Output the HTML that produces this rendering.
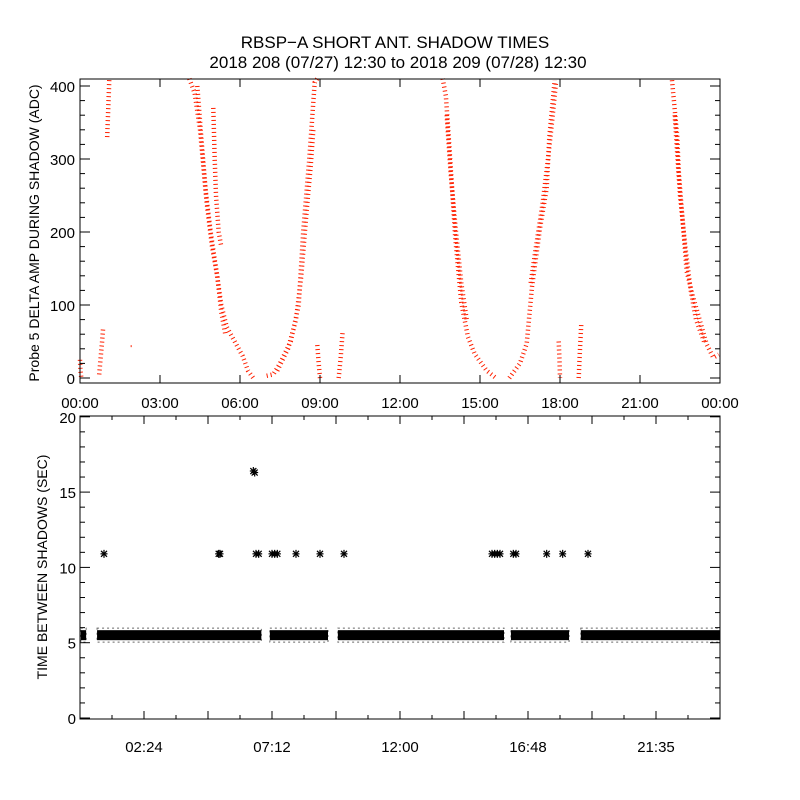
<!DOCTYPE html>
<html><head><meta charset="utf-8"><style>
body{margin:0;background:#fff}
svg{display:block;font-family:"Liberation Sans",sans-serif}
</style></head><body>
<svg id="c" width="800" height="800" viewBox="0 0 800 800">
<rect width="800" height="800" fill="#fff"/>
<text x="395" y="48" font-size="17" text-anchor="middle">RBSP−A SHORT ANT. SHADOW TIMES</text>
<text x="398" y="68" font-size="17" text-anchor="middle">2018 208 (07/27) 12:30 to 2018 209 (07/28) 12:30</text>
<g id="topPanel"></g>
<g id="botPanel"></g>
</svg>
<script>
// ---- top panel data: red amplitude strands (hours, ADC) ----
const strandTimes = [
 [0.0,0.02,0.05],
 [0.72,0.78,0.83,0.87],
 [1.02,1.05,1.08,1.1],
 [4.1,4.3,4.5,4.7,4.9,5.1,5.3,5.5,5.8,6.1,6.3,6.5],
 [4.4,4.55,4.75,4.95,5.15,5.3,5.45],
 [5.0,5.05,5.1,5.2,5.3],
 [7.0,7.25,7.5,7.9,8.2,8.37,8.6,8.8,8.9],
 [7.4,7.8,8.1,8.3,8.5,8.65,8.75],
 [8.9,8.95,9.0],
 [9.7,9.78,9.85],
 [13.6,13.72,13.85,14.07,14.3,14.55,14.8,15.25,15.6],
 [13.75,13.9,14.1,14.3,14.5],
 [16.1,16.5,16.75,16.95,17.25,17.5,17.6,17.8],
 [16.9,17.1,17.35,17.55,17.7,17.85],
 [17.95,17.98,18.0],
 [18.7,18.75,18.8],
 [22.2,22.4,22.45,22.6,22.75,23.0,23.25,23.5,23.75,23.95],
 [22.3,22.5,22.7,22.9,23.1,23.4]
];
const strandValues = [
 [25,10,0],
 [5,30,50,70],
 [330,360,390,410],
 [410,390,340,260,200,150,100,70,50,30,10,0],
 [400,330,240,180,140,90,60],
 [370,300,250,200,180],
 [3,5,20,50,100,200,300,405,410],
 [10,40,80,140,230,290,340],
 [45,20,0],
 [0,30,65],
 [410,386,318,193,103,56,33,10,0],
 [360,280,200,130,80],
 [0,20,47,125,205,260,330,408],
 [130,180,240,300,350,405],
 [50,25,0],
 [0,40,75],
 [408,330,284,215,146,110,78,46,28,32],
 [360,250,180,120,80,50]
];
const isolatedT = [1.9];
const isolatedV = [45];
const topYTicks = [0,100,200,300,400];
const topXLabels = ["00:00","03:00","06:00","09:00","12:00","15:00","18:00","21:00","00:00"];

// ---- bottom panel data ----
const bandStart = [0.03,0.64,7.12,9.67,16.16,18.78];
const bandEnd   = [0.23,6.8,9.3,15.9,18.34,24.0];
const bandValue = [5.5,5.5,5.5,5.5,5.5,5.5];
const outT = [0.9,5.2,5.25,6.5,6.55,6.6,6.7,7.2,7.3,7.4,8.1,9.0,9.9,15.45,15.55,15.65,15.75,16.25,16.35,17.5,18.1,19.05];
const outV = [10.9,10.9,10.9,16.4,16.3,10.9,10.9,10.9,10.9,10.9,10.9,10.9,10.9,10.9,10.9,10.9,10.9,10.9,10.9,10.9,10.9,10.9];
const botYTicks = [0,5,10,15,20];
const botXLabels = ["02:24","07:12","12:00","16:48","21:35"];

const NS="http://www.w3.org/2000/svg";
function mk(p,tag,a){const e=document.createElementNS(NS,tag);for(const k in a)e.setAttribute(k,a[k]);p.appendChild(e);return e;}
const topG=document.getElementById('topPanel'), botG=document.getElementById('botPanel');

// top axes
const TL=80,TR=720,TT=79,TB=383;
const tx=h=>TL+(TR-TL)*h/24;
const ty=v=>378-v*0.73;
for(let i=0;i<strandTimes.length;i++){
  const pts=strandTimes[i].map((t,j)=>tx(t).toFixed(1)+','+ty(strandValues[i][j]).toFixed(1)).join(' ');
  const pl=mk(topG,'polyline',{points:pts,fill:'none',stroke:'#ff2000','stroke-width':4.5,'stroke-dasharray':'1 3'});
  
  
}
for(let i=0;i<isolatedT.length;i++){
  const r=mk(topG,'rect',{x:tx(isolatedT[i]),y:ty(isolatedV[i]),width:1,height:2,fill:'#ff2000'});
  
  
}
const tf=mk(topG,'rect',{x:TL,y:TT,width:TR-TL,height:TB-TT,fill:'none',stroke:'#000','stroke-width':1});


for(let v=0;v<=400;v+=20){
  const L=(v%100===0)?10:5;
  mk(topG,'line',{x1:TL,x2:TL+L,y1:ty(v),y2:ty(v),stroke:'#000'});
  mk(topG,'line',{x1:TR,x2:TR-L,y1:ty(v),y2:ty(v),stroke:'#000'});
}
topYTicks.forEach(v=>{
  const t=mk(topG,'text',{x:75,y:ty(v)+6,'font-size':15,'text-anchor':'end'});t.textContent=v;
  
  
});
topXLabels.forEach((s,i)=>{
  const x=tx(i*3);
  mk(topG,'line',{x1:x,x2:x,y1:TB,y2:TB-8,stroke:'#000'});
  mk(topG,'line',{x1:x,x2:x,y1:TT,y2:TT+8,stroke:'#000'});
  const t=mk(topG,'text',{x:x,y:408,'font-size':15,'text-anchor':'middle'});t.textContent=s;
  
  
});
const ta=mk(topG,'text',{x:0,y:0,'font-size':14,'text-anchor':'middle',transform:'translate(39,233) rotate(-90)'});
ta.textContent='Probe 5 DELTA AMP DURING SHADOW (ADC)';



// bottom axes
const BL=80,BR=720,BT=416,BB=719;
const bx=h=>BL+(BR-BL)*h/24;
const by=v=>718-v*15.06;
for(let i=0;i<bandStart.length;i++){
  const r=mk(botG,'rect',{x:bx(bandStart[i]),y:by(bandValue[i])-5,width:bx(bandEnd[i])-bx(bandStart[i]),height:10,fill:'#000'});
  
  
  const e=mk(botG,'rect',{x:bx(bandStart[i]),y:by(bandValue[i])-7,width:bx(bandEnd[i])-bx(bandStart[i]),height:14,fill:'none',stroke:'#000','stroke-width':1,'stroke-dasharray':'2 3',opacity:0.6});
  
  
}
for(let i=0;i<outT.length;i++){
  const x=bx(outT[i]),y=by(outV[i]);
  const g=mk(botG,'g',{stroke:'#000','stroke-width':1.2});
  
  
  mk(g,'line',{x1:x-3.5,x2:x+3.5,y1:y,y2:y});
  mk(g,'line',{x1:x,x2:x,y1:y-4,y2:y+4});
  mk(g,'line',{x1:x-3,x2:x+3,y1:y-3,y2:y+3});
  mk(g,'line',{x1:x-3,x2:x+3,y1:y+3,y2:y-3});
}
const bf=mk(botG,'rect',{x:BL,y:BT,width:BR-BL,height:BB-BT,fill:'none',stroke:'#000','stroke-width':1});


for(let v=0;v<=20;v++){
  const L=(v%5===0)?10:5;
  mk(botG,'line',{x1:BL,x2:BL+L,y1:by(v),y2:by(v),stroke:'#000'});
  mk(botG,'line',{x1:BR,x2:BR-L,y1:by(v),y2:by(v),stroke:'#000'});
}
botYTicks.forEach(v=>{
  const t=mk(botG,'text',{x:76,y:by(v)+6,'font-size':15,'text-anchor':'end'});t.textContent=v;
  
  
});
for(let k=1;k<20;k++){
  const x=bx(k*1.2),L=(k%2===0)?8:4;
  mk(botG,'line',{x1:x,x2:x,y1:BB,y2:BB-L,stroke:'#000'});
  mk(botG,'line',{x1:x,x2:x,y1:BT,y2:BT+L,stroke:'#000'});
}
botXLabels.forEach((s,i)=>{
  const t=mk(botG,'text',{x:bx(2.4+4.8*i),y:752,'font-size':15,'text-anchor':'middle'});t.textContent=s;
  
  
});
const ba=mk(botG,'text',{x:0,y:0,'font-size':14,'text-anchor':'middle',transform:'translate(47,567) rotate(-90)'});
ba.textContent='TIME BETWEEN SHADOWS (SEC)';


</script>
</body></html>
